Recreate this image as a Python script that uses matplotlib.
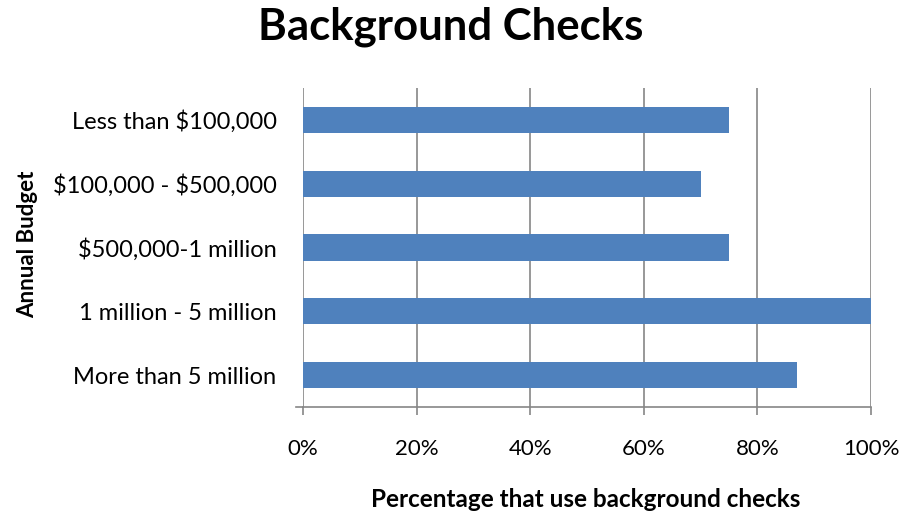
import matplotlib.pyplot as plt
from matplotlib.ticker import FuncFormatter

categories = ["Less than \\$100,000", "\\$100,000 - \\$500,000", "\\$500,000-1 million",
              "1 million - 5 million", "More than 5 million"]
values = [75, 70, 75, 100, 87]
xticks = [0, 20, 40, 60, 80, 100]

plt.rcParams['font.family'] = ['Lato', 'DejaVu Sans']

fig = plt.figure(figsize=(9.06, 5.2), dpi=100)
ax = fig.add_axes([303 / 906, 1 - 407 / 520, 568 / 906, 319 / 520])

pos = list(range(len(categories)))
ax.barh(pos, values, height=0.41, color="#4F81BD", zorder=3)
ax.set_yticks(pos)
ax.set_yticklabels(categories, fontsize=17)
ax.set_ylim(len(categories) - 0.5, -0.5)
ax.set_xlim(0, 100)
ax.set_xticks(xticks)
ax.xaxis.set_major_formatter(FuncFormatter(lambda v, _: f"{v:.0f}%"))
ax.tick_params(axis="x", labelsize=16, length=6, width=1.2, color="#868686", pad=17, direction="out")
ax.tick_params(axis="y", length=0, pad=19)

ax.grid(axis="x", color="#868686", linewidth=1.2, zorder=0)
for s in ["top", "right", "left"]:
    ax.spines[s].set_visible(False)
ax.spines["bottom"].set_color("#868686")
ax.spines["bottom"].set_linewidth(1.2)
ax.plot([-0.012, 0], [0, 0], transform=ax.transAxes, color="#868686", lw=1.2, clip_on=False)

fig.text(0.497, 0.948, "Background Checks", ha="center", va="center", fontsize=31.5, fontweight="bold")
fig.text(0.647, 0.04, "Percentage that use background checks", ha="center", va="center",
         fontsize=17.5, fontweight="bold")
fig.text(0.031, 0.53, "Annual Budget", ha="center", va="center", rotation=90,
         fontsize=16, fontweight="bold")

fig.savefig("out.png", dpi=100)
